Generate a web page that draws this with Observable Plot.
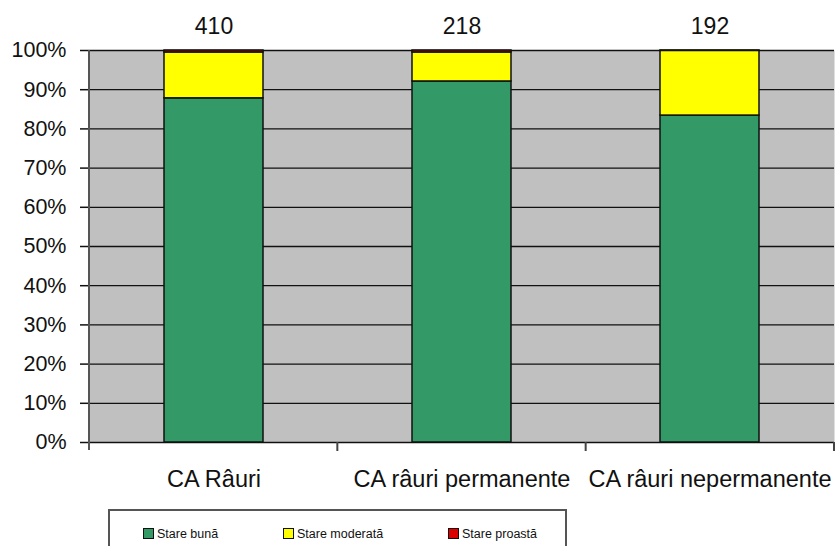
<!DOCTYPE html>
<html>
<head>
<meta charset="utf-8">
<script src="https://cdn.jsdelivr.net/npm/d3@7"></script>
<script src="https://cdn.jsdelivr.net/npm/@observablehq/plot@0.6"></script>
<style>
  html, body { margin: 0; padding: 0; background: #fff; }
  body { width: 835px; height: 546px; overflow: hidden; position: relative; font-family: "Liberation Sans", Arial, sans-serif; }
  #legend { position: absolute; left: 108px; top: 509px; width: 459px; height: 60px; border: 2px solid #555; box-sizing: border-box; }
  .item { position: absolute; top: 16px; font-size: 12.5px; color: #111; white-space: nowrap; line-height: 14px; }
  .sw { display: inline-block; width: 9px; height: 9px; border: 1px solid #111; margin-right: 3px; vertical-align: -1px; }
</style>
</head>
<body>
<div id="chart"></div>
<div id="legend"></div>
<script>
const categories = ["CA Râuri", "CA râuri permanente", "CA râuri nepermanente"];
const counts = [410, 218, 192];
const states = ["Stare bună", "Stare moderată", "Stare proastă"];
const colors = ["#339966", "#ffff00", "#dd0000"];
const stareBuna = [87.8, 92.1, 83.4];
const stareModerata = [11.7, 7.4, 16.5];
const stareProasta = [0.5, 0.5, 0.1];
const yTicks = [0, 10, 20, 30, 40, 50, 60, 70, 80, 90, 100];

const series = [stareBuna, stareModerata, stareProasta];
const rows = [];
categories.forEach((c, i) => {
  states.forEach((s, j) => rows.push({cat: c, state: s, value: series[j][i]}));
});
const countRows = categories.map((c, i) => ({cat: c, n: String(counts[i])}));

const W = 835, H = 500;

function extras(index, scales, values, dims) {
  const g = d3.create("svg:g");
  const x0 = dims.marginLeft, x1 = dims.width - dims.marginRight;
  const yb = dims.height - dims.marginBottom, yt = dims.marginTop;
  g.append("line").attr("x1", x0).attr("x2", x0).attr("y1", yt).attr("y2", yb + 8)
    .attr("stroke", "#555").attr("stroke-width", 2);
  const n = categories.length;
  for (let i = 1; i <= n; i++) {
    const x = x0 + i * (x1 - x0) / n;
    g.append("line").attr("x1", x).attr("x2", x).attr("y1", yb).attr("y2", yb + 9)
      .attr("stroke", "#444").attr("stroke-width", 2);
  }
  return g.node();
}

const chart = Plot.plot({
  width: W,
  height: H,
  marginLeft: 89,
  marginRight: 1,
  marginTop: 50,
  marginBottom: 58,
  style: {fontFamily: "Liberation Sans, Arial, sans-serif", fontSize: "18px", color: "#111", background: "transparent"},
  x: {domain: categories, paddingInner: 0.6, paddingOuter: 0.3, label: null},
  y: {domain: [0, 100], label: null},
  color: {domain: states, range: colors},
  marks: [
    Plot.frame({fill: "#c0c0c0", stroke: null}),
    Plot.ruleY(yTicks, {stroke: "#111", strokeWidth: 1.3}),
    Plot.barY(rows, {x: "cat", y: "value", fill: "state", order: states, stroke: "#111", strokeWidth: 1.5}),
    Plot.axisY({ticks: yTicks, tickFormat: d => d + "%", tickSize: 9, tickPadding: 14, stroke: "#111", strokeWidth: 1.5, fontSize: 21.5, label: null}),
    Plot.axisX({tickSize: 0, tickPadding: 28, fontSize: 23.5, label: null}),
    Plot.text(countRows, {x: "cat", text: "n", frameAnchor: "top", dy: -33, fontSize: 23, fill: "#111"}),
    extras
  ]
});
document.getElementById("chart").appendChild(chart);

const legend = document.getElementById("legend");
const itemLeft = [33, 173, 338];
states.forEach((s, i) => {
  const d = document.createElement("div");
  d.className = "item";
  d.style.left = itemLeft[i] + "px";
  d.innerHTML = `<span class="sw" style="background:${colors[i]}"></span>${s}`;
  legend.appendChild(d);
});
</script>
</body>
</html>
